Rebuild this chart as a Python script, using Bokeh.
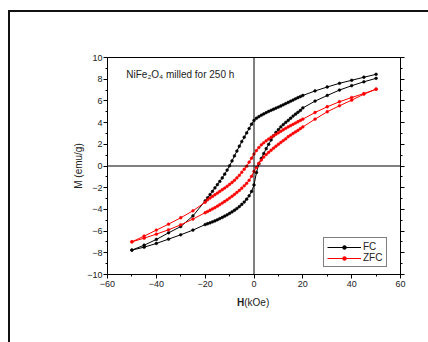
from bokeh.plotting import figure
from bokeh.models import Range1d, LinearAxis, FixedTicker, Span, Label, Legend, LegendItem, Div, GlobalInlineStyleSheet
from bokeh.layouts import column
from bokeh.embed import file_html
from bokeh.resources import INLINE

# ---------------- data ----------------
# FC loop: descending (upper) branch from +50 to -50 kOe
fc_up_h = [50, 45, 40, 35, 30, 25,
           20, 19, 18, 17, 16, 15, 14, 13, 12, 11, 10, 9, 8, 7, 6, 5, 4, 3, 2, 1, 0,
           -1, -2, -3, -4, -5, -6, -7, -8, -9, -10, -11, -12, -13, -14, -15, -16, -17, -18, -19, -20,
           -25, -30, -35, -40, -45, -50]
fc_up_m = [8.45, 8.18, 7.9, 7.62, 7.28, 6.92,
           6.5, 6.4, 6.3, 6.19, 6.08, 5.97, 5.86, 5.75, 5.64, 5.53, 5.43, 5.33, 5.23, 5.13, 5.03, 4.92, 4.8, 4.68, 4.55, 4.4, 4.2,
           3.85, 3.45, 3.05, 2.65, 2.25, 1.82, 1.38, 0.93, 0.47, 0.02, -0.38, -0.75, -1.1, -1.42, -1.72, -2.02, -2.33, -2.63, -2.93, -3.22,
           -4.6, -5.58, -6.16, -6.77, -7.3, -7.75]
# FC loop: ascending (lower) branch from -50 to +50 kOe
fc_lo_h = [-50, -45, -40, -35, -30, -25,
           -20, -19, -18, -17, -16, -15, -14, -13, -12, -11, -10, -9, -8, -7, -6, -5, -4, -3, -2, -1, 0,
           1, 2, 3, 4, 5, 6, 7, 8, 9, 10, 11, 12, 13, 14, 15, 16, 17, 18, 19, 20,
           25, 30, 35, 40, 45, 50]
fc_lo_m = [-7.75, -7.48, -7.14, -6.74, -6.34, -5.91,
           -5.4, -5.32, -5.24, -5.15, -5.06, -4.96, -4.85, -4.74, -4.62, -4.5, -4.37, -4.23, -4.08, -3.92, -3.74, -3.54, -3.32, -3.06, -2.75, -2.35, -1.75,
           -0.6, 0.2, 0.7, 1.15, 1.6, 2.0, 2.4, 2.78, 3.1, 3.35, 3.6, 3.82, 4.02, 4.2, 4.4, 4.6, 4.78, 4.95, 5.12, 5.35,
           5.98, 6.5, 7.0, 7.4, 7.76, 8.08]

# ZFC loop: descending (upper) branch
zfc_up_h = [50, 45, 40, 35, 30, 25,
            20, 19, 18, 17, 16, 15, 14, 13, 12, 11, 10, 9, 8, 7, 6, 5, 4, 3, 2, 1, 0,
            -1, -2, -3, -4, -5, -6, -7, -8, -9, -10, -11, -12, -13, -14, -15, -16, -17, -18, -19, -20,
            -25, -30, -35, -40, -45, -50]
zfc_up_m = [7.08, 6.68, 6.31, 5.92, 5.46, 4.93,
            4.32, 4.2, 4.08, 3.96, 3.84, 3.72, 3.6, 3.47, 3.34, 3.2, 3.06, 2.92, 2.78, 2.64, 2.48, 2.32, 2.14, 1.95, 1.7, 1.42, 1.1,
            0.72, 0.35, -0.02, -0.3, -0.58, -0.86, -1.1, -1.32, -1.52, -1.7, -1.87, -2.03, -2.19, -2.34, -2.5, -2.65, -2.8, -2.95, -3.12, -3.34,
            -4.13, -4.77, -5.36, -5.91, -6.46, -6.99]
# ZFC loop: ascending (lower) branch
zfc_lo_h = [-50, -45, -40, -35, -30, -25,
            -20, -19, -18, -17, -16, -15, -14, -13, -12, -11, -10, -9, -8, -7, -6, -5, -4, -3, -2, -1, 0,
            1, 2, 3, 4, 5, 6, 7, 8, 9, 10, 11, 12, 13, 14, 15, 16, 17, 18, 19, 20,
            25, 30, 35, 40, 45, 50]
zfc_lo_m = [-6.99, -6.65, -6.28, -5.88, -5.42, -4.89,
            -4.31, -4.2, -4.08, -3.96, -3.84, -3.7, -3.56, -3.42, -3.27, -3.12, -2.96, -2.79, -2.62, -2.44, -2.25, -2.05, -1.83, -1.6, -1.32, -0.95, -0.5,
            -0.12, 0.25, 0.55, 0.82, 1.05, 1.25, 1.45, 1.64, 1.82, 2.0, 2.17, 2.34, 2.5, 2.7, 2.85, 3.0, 3.14, 3.28, 3.44, 3.6,
            4.32, 5.0, 5.55, 6.07, 6.62, 7.08]

x_ticks = [-60, -40, -20, 0, 20, 40, 60]
x_minor = [-50, -30, -10, 10, 30, 50]
y_ticks = [-10, -8, -6, -4, -2, 0, 2, 4, 6, 8, 10]
y_minor = [-9, -7, -5, -3, -1, 1, 3, 5, 7, 9]
series_names = ["FC", "ZFC"]
series_colors = ["#000000", "#ff0000"]
note_text = "NiFe\u2082O\u2084 milled for 250 h"

FONT = "Liberation Sans"

p = figure(width=428, height=292, output_backend="svg", toolbar_location=None,
           x_range=Range1d(-60, 60), y_range=Range1d(-10, 10),
           x_axis_location=None, y_axis_location=None,
           min_border_left=107, min_border_right=28, min_border_top=57, min_border_bottom=18)
p.background_fill_color = "white"
p.border_fill_alpha = 0
p.outline_line_color = "black"
p.outline_line_width = 1
p.xgrid.visible = False
p.ygrid.visible = False


def style_axis(ax, ticks, minor, labels=True):
    ax.ticker = FixedTicker(ticks=ticks, minor_ticks=minor)
    ax.axis_line_color = "black"
    ax.major_tick_line_color = "black"
    ax.minor_tick_line_color = "black"
    ax.major_tick_in = 0
    ax.major_tick_out = 4
    ax.minor_tick_in = 0
    ax.minor_tick_out = 2
    ax.major_label_text_font = FONT
    ax.major_label_text_font_size = "9px"
    ax.major_label_text_color = "#222222"
    if not labels:
        ax.major_label_text_alpha = 0


xb = LinearAxis()
style_axis(xb, x_ticks, x_minor)
xb.major_label_standoff = 2
p.add_layout(xb, "below")

yl = LinearAxis(axis_label="M (emu/g)")
style_axis(yl, y_ticks, y_minor)
yl.major_label_standoff = 1
yl.axis_label_text_font = FONT
yl.axis_label_text_font_size = "10px"
yl.axis_label_text_font_style = "normal"
yl.axis_label_text_color = "#222222"
yl.axis_label_standoff = 0
p.add_layout(yl, "left")

yr = LinearAxis()
style_axis(yr, y_ticks, y_minor, labels=False)
p.add_layout(yr, "right")

# zero lines
p.add_layout(Span(location=0, dimension="width", line_color="black", line_width=1))
p.add_layout(Span(location=0, dimension="height", line_color="black", line_width=1))

items = []
curves = [((fc_up_h, fc_up_m), (fc_lo_h, fc_lo_m)), ((zfc_up_h, zfc_up_m), (zfc_lo_h, zfc_lo_m))]
for name, color, branches in zip(series_names, series_colors, curves):
    rends = []
    for hh, mm in branches:
        l = p.line(hh, mm, line_color=color, line_width=1)
        s = p.scatter(hh, mm, marker="circle", size=2.8, fill_color=color, line_color=color, line_width=0.5)
        rends += [l, s]
    items.append(LegendItem(label=name, renderers=rends[:2]))

legend = Legend(items=items, location=(216, 7))
legend.border_line_color = "black"
legend.border_line_width = 1
legend.background_fill_alpha = 1
legend.padding = 3
legend.spacing = 0
legend.margin = 0
legend.glyph_width = 34
legend.glyph_height = 10
legend.label_height = 10
legend.label_standoff = 2
legend.label_text_font = FONT
legend.label_text_font_size = "10px"
legend.label_text_color = "#222222"
p.add_layout(legend, "center")

# annotation text inside the frame
p.add_layout(Label(x=-52.3, y=8.4, text=note_text, text_font=FONT, text_font_size="10px",
                   text_color="#222222", text_baseline="middle", text_align="left"))

# x-axis title with a bold "H"
xtitle = Div(text='<div style="position:relative;left:237px;top:2px;font-family:\'Liberation Sans\';'
                  'font-size:10px;line-height:12px;color:#222222;white-space:nowrap"><b>H</b>(kOe)</div>',
             width=428, height=50, margin=0)

page = column(p, xtitle, width=428, height=342, spacing=0, margin=0)
# outer page frame (left and top rules), drawn behind the transparent margins
page.styles = {
    "overflow": "hidden",
    "background-color": "white",
    "background-image": "linear-gradient(#111111, #111111), linear-gradient(#111111, #111111)",
    "background-size": "2px 400px, 500px 2px",
    "background-position": "8px 10px, 8px 10px",
    "background-repeat": "no-repeat",
}
page.stylesheets = [GlobalInlineStyleSheet(css="html, body { overflow: hidden !important; margin: 0; }")]

open("out.html", "w").write(file_html(page, INLINE))
